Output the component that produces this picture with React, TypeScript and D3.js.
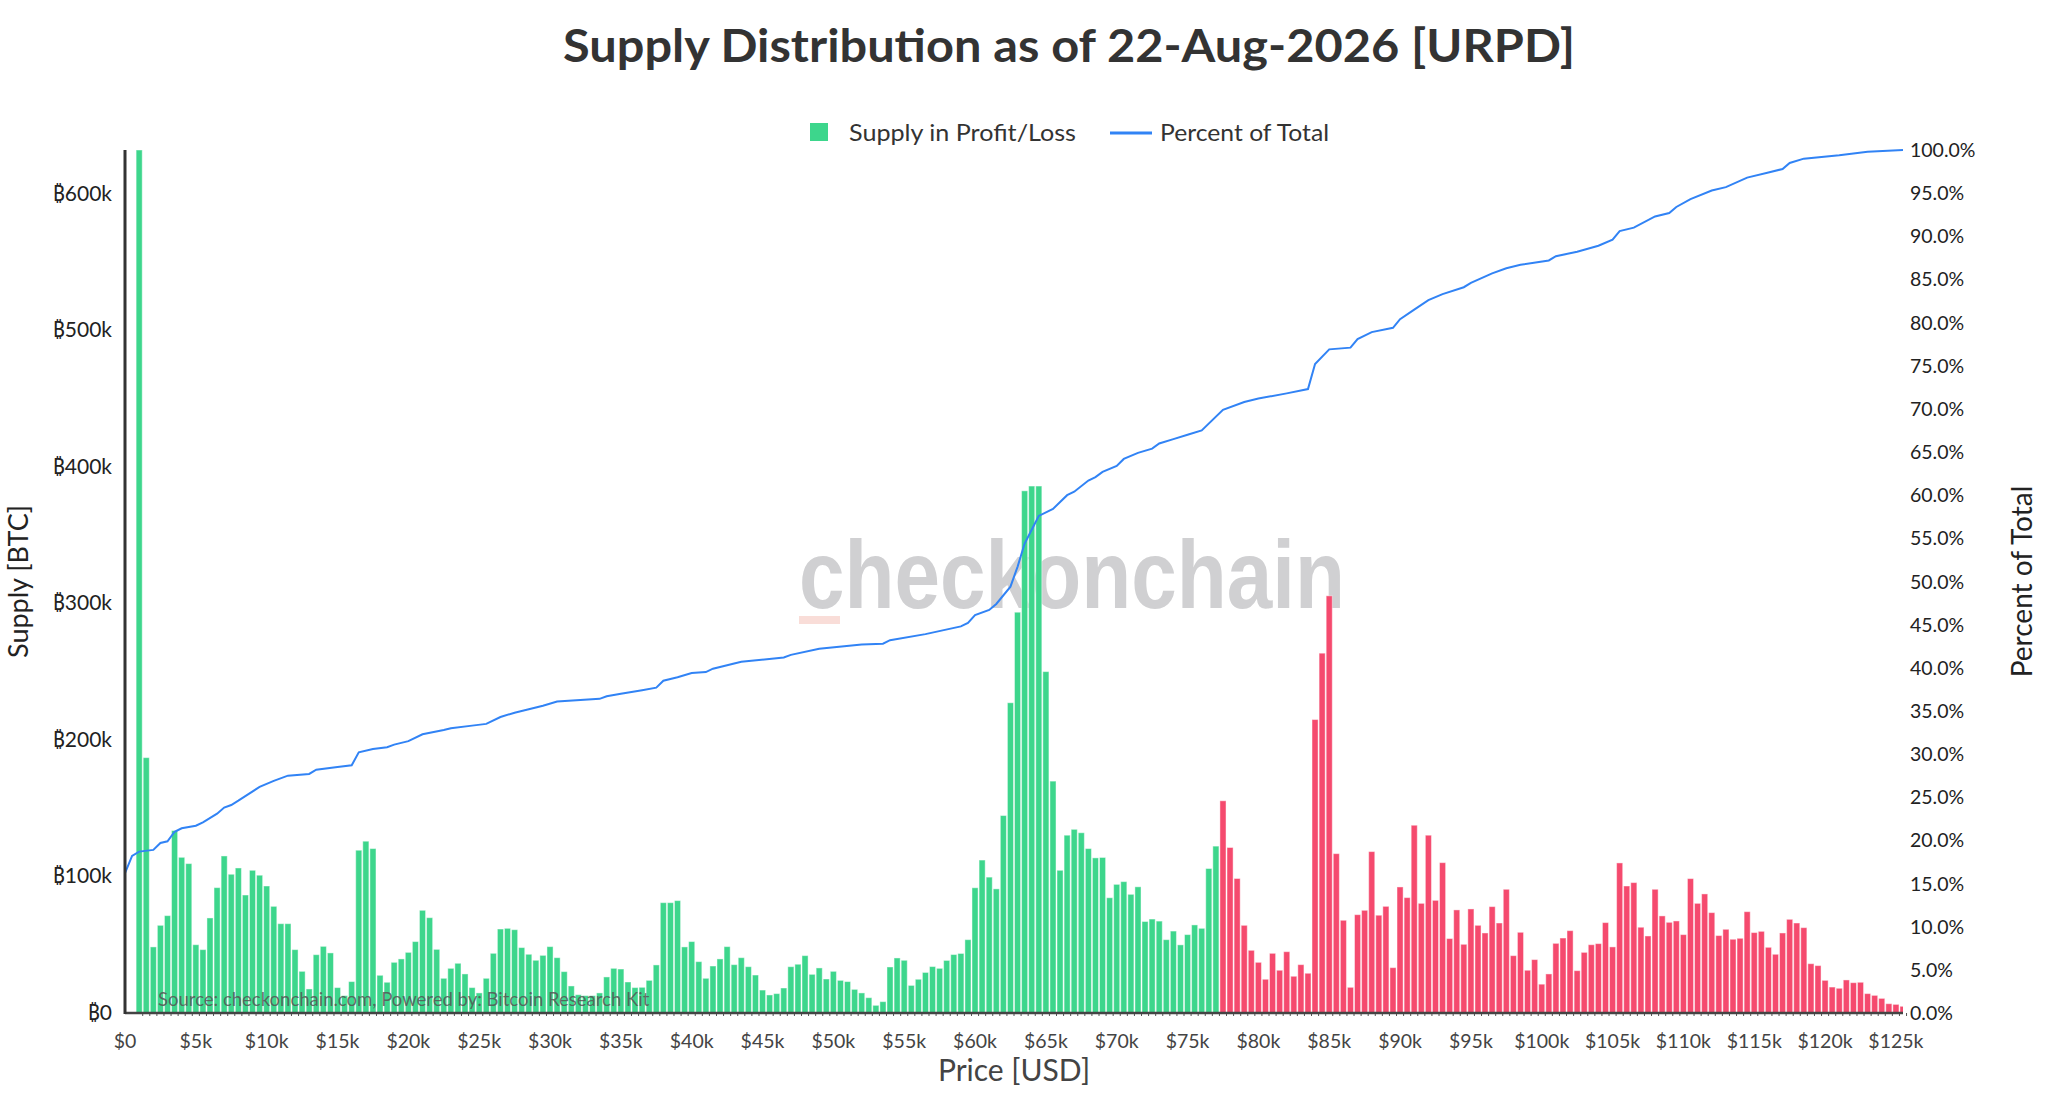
import * as d3 from "d3"
import React, { useRef, useEffect } from "react"

// supply per $500 bucket, in thousands of BTC (first bucket is $1,000)
const firstBucket = 1000
const bucketStep = 500
const supplyK = [
  632, 187, 48.4, 64.2, 71.3, 133.6, 114, 109.4, 50, 46.4,
  69.6, 91.8, 115, 101.6, 106.2, 86.4, 104.5, 100.9, 93, 78.1,
  65.4, 65.4, 46.4, 30.5, 17.6, 42.7, 48.8, 44, 18.6, 12.7,
  23, 119.2, 125.8, 120.4, 27.6, 22.5, 37.1, 39.6, 44.4, 52.3,
  75.2, 69.8, 46.6, 25.4, 32.7, 36.4, 28.6, 18.6, 14.7, 25.4,
  43.7, 61.5, 62, 61, 47.9, 43, 38.6, 42.2, 48.6, 40.5,
  30.3, 19.8, 13.4, 12.7, 12.7, 14.7, 26.4, 32.7, 32.2, 22.7,
  18.6, 18.8, 23.9, 35.2, 80.8, 80.8, 82.3, 48.4, 52.3, 37.6,
  25.4, 34.4, 39.6, 48.6, 35.4, 40.5, 33.9, 27.8, 16.8, 13.2,
  14.2, 18.3, 33.9, 35.7, 42, 28.3, 33, 24.9, 30.5, 23.9,
  23, 17.3, 14.7, 11.2, 5.6, 8.3, 33.7, 40.3, 38.6, 20.2,
  24.7, 29.7, 34, 32.7, 38.5, 42.8, 43.6, 53.7, 91.7, 112,
  99.5, 90.9, 144.6, 227.2, 293.5, 382.4, 385.9, 385.9, 250, 169.8,
  104.5, 130.2, 134.5, 132, 120.4, 113.6, 113.9, 84.4, 94.2, 96.2,
  86.9, 92.4, 67, 68.8, 67.3, 53.7, 60, 49.9, 57.4, 64.5,
  62, 105.8, 122.2, 155.4, 121.2, 98.5, 64.2, 45.9, 37.1, 24.7,
  43.7, 31.3, 44.9, 26.9, 35.4, 29.1, 214.9, 263.5, 305.5, 116.7,
  67.9, 18.8, 72, 75.2, 118.2, 71.6, 78.1, 33.2, 92.3, 84.5,
  137.5, 80.3, 130.2, 82.5, 110.1, 54.5, 75.5, 50.3, 76.2, 64.2,
  58.6, 77.9, 65.9, 90.6, 42, 59.1, 31.3, 39.1, 21.1, 28.6,
  51, 54.9, 60.3, 31, 44.4, 50, 50.8, 66.2, 48.4, 109.9,
  93, 95.5, 62.8, 56.4, 90.6, 71.1, 66.4, 67.4, 57.4, 98.4,
  80.3, 87.2, 73.5, 56.7, 61.3, 54, 54.7, 74.2, 58.9, 59.8,
  48.1, 43, 58.6, 68.6, 65.9, 62.5, 36.1, 34.7, 23.9, 19,
  18.1, 24.2, 22.2, 22.5, 14.2, 12.9, 10.7, 6.8, 6.3, 4.9,
]

// buckets at or above this price are in loss
const spotPrice = 77400

// cumulative percent line, read at these prices ($k)
const linePriceK = [
  0, 0.5, 1, 2, 2.5, 3, 3.5, 4, 5, 5.5,
  6.5, 7, 7.5, 8, 9.5, 10.5, 11.5, 13, 13.5, 15,
  16, 16.5, 17.5, 18.5, 19, 20, 21, 22.5, 23, 24.5,
  25.5, 26.5, 27.5, 28.5, 29.5, 30.5, 33.5, 34, 35, 36.5,
  37.5, 38, 39, 40, 41, 41.5, 43.5, 46.5, 47, 49,
  52, 53.5, 54, 56.5, 59, 59.5, 60, 61, 61.5, 62.5,
  63, 63.5, 64, 64.5, 65.5, 66.5, 67, 68, 68.5, 69,
  70, 70.5, 71.5, 72.5, 73, 74, 75, 76, 77.5, 79,
  80, 82, 83.5, 84, 85, 86.5, 87, 88, 89.5, 90,
  91, 92, 93, 94.5, 95, 96.5, 97.5, 98.5, 100.5, 101,
  102.5, 104, 105, 105.5, 106.5, 108, 109, 109.5, 110.5, 112,
  113, 114.5, 116, 117, 117.5, 118.5, 121, 123, 125.5,
]
const linePct = [
  16.2, 18.2, 18.7, 18.9, 19.7, 19.9, 21.0, 21.4, 21.7, 22.1,
  23.1, 23.8, 24.1, 24.6, 26.2, 26.9, 27.5, 27.7, 28.2, 28.5,
  28.7, 30.2, 30.6, 30.8, 31.1, 31.5, 32.3, 32.8, 33.0, 33.3,
  33.5, 34.3, 34.8, 35.2, 35.6, 36.1, 36.4, 36.7, 37.0, 37.4,
  37.7, 38.5, 38.9, 39.4, 39.5, 39.9, 40.7, 41.2, 41.5, 42.2,
  42.7, 42.8, 43.2, 43.9, 44.8, 45.2, 46.1, 46.7, 47.4, 49.4,
  51.7, 54.4, 56.0, 57.6, 58.4, 60.0, 60.4, 61.7, 62.1, 62.7,
  63.4, 64.2, 64.9, 65.4, 66.0, 66.5, 67.0, 67.5, 69.9, 70.8,
  71.2, 71.8, 72.3, 75.2, 76.9, 77.1, 78.1, 78.9, 79.4, 80.4,
  81.5, 82.6, 83.3, 84.1, 84.6, 85.7, 86.3, 86.7, 87.2, 87.7,
  88.2, 88.9, 89.6, 90.6, 91.0, 92.3, 92.7, 93.4, 94.3, 95.3,
  95.7, 96.8, 97.4, 97.8, 98.5, 99.0, 99.4, 99.8, 100,
]

const xTicks = d3.range(0, 125001, 5000)
const yTicksK = [0, 100, 200, 300, 400, 500, 600]
const pctTicks = d3.range(0, 100.1, 5)

const green = "#3dd68c"
const red = "#f54a6e"
const blue = "#3183f5"
const font = "Lato, 'Noto Sans', 'DejaVu Sans', sans-serif"

function SupplyChart() {
  const svgRef = useRef<SVGSVGElement>(null)

  useEffect(() => {
    document.body.style.margin = "0"
    const svg = d3.select(svgRef.current)
    svg.selectAll("*").remove()

    const width = 2048,
      height = 1100
    const m = { left: 125, right: 145, top: 150, bottom: 87 }
    const x0 = m.left,
      x1 = width - m.right,
      y0 = height - m.bottom,
      y1 = m.top

    const xScale = d3.scaleLinear().domain([0, 125500]).range([x0, x1])
    const yScale = d3.scaleLinear().domain([0, d3.max(supplyK)]).range([y0, y1])
    const pScale = d3.scaleLinear().domain([0, 100]).range([y0, y1])

    const buckets = supplyK.map((v, i) => ({
      price: firstBucket + i * bucketStep,
      value: v,
    }))
    const step = xScale(bucketStep) - xScale(0)

    svg.append("rect").attr("width", width).attr("height", height).attr("fill", "#fff")

    // title + legend
    svg
      .append("text")
      .attr("x", 563)
      .attr("y", 62)
      .attr("textLength", 1012)
      .attr("lengthAdjust", "spacingAndGlyphs")
      .style("font", `700 46px ${font}`)
      .attr("fill", "#333")
      .text("Supply Distribution as of 22-Aug-2026 [URPD]")

    const legend = svg.append("g").style("font", `400 24px ${font}`).attr("fill", "#333")
    legend.append("rect").attr("x", 810).attr("y", 123).attr("width", 18).attr("height", 18).attr("fill", green)
    legend
      .append("text")
      .attr("x", 849)
      .attr("y", 141)
      .attr("textLength", 227)
      .attr("lengthAdjust", "spacingAndGlyphs")
      .text("Supply in Profit/Loss")
    legend
      .append("line")
      .attr("x1", 1110)
      .attr("x2", 1152)
      .attr("y1", 133)
      .attr("y2", 133)
      .attr("stroke", blue)
      .attr("stroke-width", 3)
    legend
      .append("text")
      .attr("x", 1160)
      .attr("y", 141)
      .attr("textLength", 169)
      .attr("lengthAdjust", "spacingAndGlyphs")
      .text("Percent of Total")

    // watermark
    svg
      .append("text")
      .attr("x", 799)
      .attr("y", 608)
      .attr("textLength", 546)
      .attr("lengthAdjust", "spacingAndGlyphs")
      .style("font", `700 96px 'Liberation Sans', Arial, sans-serif`)
      .attr("fill", "#d0d0d2")
      .text("checkonchain")
    svg
      .append("rect")
      .attr("x", 799)
      .attr("y", 616)
      .attr("width", 41)
      .attr("height", 8)
      .attr("fill", "#f9ddd8")

    svg
      .append("defs")
      .append("clipPath")
      .attr("id", "plot-clip")
      .append("rect")
      .attr("x", x0)
      .attr("y", y1 - 2)
      .attr("width", x1 - x0)
      .attr("height", y0 - y1 + 2)

    const plot = svg.append("g").attr("clip-path", "url(#plot-clip)")

    plot
      .selectAll("rect.bar")
      .data(buckets)
      .enter()
      .append("rect")
      .attr("class", "bar")
      .attr("x", (d) => xScale(d.price) - step * 0.43)
      .attr("width", step * 0.86)
      .attr("y", (d) => yScale(d.value))
      .attr("height", (d) => y0 - yScale(d.value))
      .attr("fill", (d) => (d.price >= spotPrice ? red : green))
      .attr("stroke", "rgba(255,255,255,0.45)")
      .attr("stroke-width", 1)

    const line = d3
      .line<number>()
      .x((d, i) => xScale(linePriceK[i] * 1000))
      .y((d) => pScale(d))

    plot
      .append("path")
      .datum(linePct)
      .attr("d", line)
      .attr("fill", "none")
      .attr("stroke", blue)
      .attr("stroke-width", 2)

    // source note
    svg
      .append("text")
      .attr("x", 158)
      .attr("y", 1006)
      .style("font", `400 18.5px ${font}`)
      .attr("fill", "#555")
      .attr("fill-opacity", 0.85)
      .text("Source: checkonchain.com, Powered by: Bitcoin Research Kit")

    // axes
    svg
      .append("g")
      .selectAll("line")
      .data(buckets)
      .enter()
      .append("line")
      .attr("x1", (d) => xScale(d.price) + step / 2)
      .attr("x2", (d) => xScale(d.price) + step / 2)
      .attr("y1", y0)
      .attr("y2", y0 + 3)
      .attr("stroke", "#555")
      .attr("stroke-width", 1)

    svg.append("line").attr("x1", x0).attr("x2", x1).attr("y1", y0).attr("y2", y0).attr("stroke", "#444").attr("stroke-width", 2.5)
    svg.append("line").attr("x1", x0).attr("x2", x0).attr("y1", y1).attr("y2", y0 + 1).attr("stroke", "#333").attr("stroke-width", 3)

    svg
      .append("g")
      .style("font", `400 19.5px ${font}`)
      .attr("fill", "#444")
      .selectAll("text")
      .data(xTicks)
      .enter()
      .append("text")
      .attr("x", (d) => xScale(d))
      .attr("y", y0 + 35)
      .attr("text-anchor", "middle")
      .text((d) => (d === 0 ? "$0" : `$${d / 1000}k`))

    svg
      .append("g")
      .style("font", `400 21px ${font}`)
      .attr("fill", "#222")
      .selectAll("text")
      .data(yTicksK)
      .enter()
      .append("text")
      .attr("x", 112)
      .attr("y", (d) => yScale(d) + 7)
      .attr("text-anchor", "end")
      .text((d) => (d === 0 ? "\u20BF0" : `\u20BF${d}k`))

    svg
      .append("g")
      .style("font", `400 19.5px ${font}`)
      .attr("fill", "#222")
      .selectAll("text")
      .data(pctTicks)
      .enter()
      .append("text")
      .attr("x", 1910)
      .attr("y", (d) => pScale(d) + 7)
      .text((d) => `${d.toFixed(1)}%`)

    // axis titles
    svg
      .append("text")
      .attr("transform", `translate(28,${(y0 + y1) / 2}) rotate(-90)`)
      .attr("text-anchor", "middle")
      .style("font", `400 27px ${font}`)
      .attr("fill", "#222")
      .text("Supply [BTC]")
    svg
      .append("text")
      .attr("transform", `translate(2032,${(y0 + y1) / 2}) rotate(-90)`)
      .attr("text-anchor", "middle")
      .style("font", `400 28px ${font}`)
      .attr("fill", "#222")
      .text("Percent of Total")
    svg
      .append("text")
      .attr("x", (x0 + x1) / 2)
      .attr("y", 1081)
      .attr("text-anchor", "middle")
      .style("font", `400 30px ${font}`)
      .attr("fill", "#444")
      .text("Price [USD]")
  }, [])

  return <svg ref={svgRef} width={2048} height={1100} style={{ display: "block" }} />
}

export default function App() {
  return <SupplyChart />
}
